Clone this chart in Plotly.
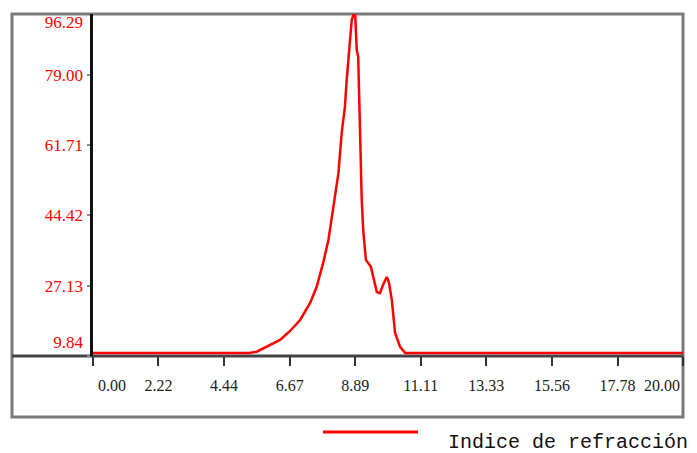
import plotly.graph_objects as go

# ---- data ----
elution_volume = [0.0, 5.30, 5.55, 5.92, 6.34, 6.68, 7.02, 7.36, 7.58, 7.81, 7.98, 8.15, 8.32,
                  8.43, 8.54, 8.60, 8.69, 8.77, 8.88, 8.94, 8.99, 9.05, 9.11, 9.16, 9.25,
                  9.42, 9.62, 9.73, 9.83, 9.96, 10.03, 10.13, 10.24, 10.41, 10.58, 20.0]
refractive_index = [10.6, 10.6, 10.9, 12.2, 13.8, 16.0, 18.7, 22.9, 26.8, 33.0, 38.4, 46.6, 54.9,
                    64.7, 71.2, 77.8, 85.2, 92.5, 95.0, 85.2, 83.4, 64.7, 48.2, 40.8, 33.5,
                    31.8, 25.6, 25.3, 27.3, 29.3, 28.0, 23.6, 15.5, 12.1, 10.6, 10.6]

x_ticks = [0.0, 2.22, 4.44, 6.67, 8.89, 11.11, 13.33, 15.56, 17.78, 20.0]
x_tick_labels = ["0.00", "2.22", "4.44", "6.67", "8.89", "11.11", "13.33", "15.56", "17.78", "20.00"]
y_ticks = [9.84, 27.13, 44.42, 61.71, 79.00, 96.29]
y_tick_labels = ["9.84", "27.13", "44.42", "61.71", "79.00", "96.29"]
series_name = "Indice de refracción"

# ---- layout geometry ----
W, H = 697, 453
ML, MR, MT, MB = 93, 14, 14, 97
PW, PH = W - ML - MR, H - MT - MB
X_RANGE = [0, 20]
Y_RANGE = [9.84, 94.01]


def px_x(p):  # pixel -> paper x
    return (p - ML) / PW


def px_y(p):  # pixel -> paper y
    return (H - MB - p) / PH


# label positions: end labels are pushed inside the frame as in the reference
x_unit = PW / (X_RANGE[1] - X_RANGE[0])
y_unit = PH / (Y_RANGE[1] - Y_RANGE[0])
x_label_pos = list(x_ticks)
x_label_pos[0] = x_ticks[0] + 19 / x_unit
x_label_pos[-1] = x_ticks[-1] - 21 / x_unit
y_label_pos = list(y_ticks)
y_label_pos[0] = y_ticks[0] + 14 / y_unit
y_label_pos[-1] = Y_RANGE[1] - 8 / y_unit

fig = go.Figure()
fig.add_trace(go.Scatter(
    x=elution_volume, y=refractive_index, mode="lines", name=series_name,
    line=dict(color="#ff0000", width=2.5), showlegend=False,
))
# invisible copy to carry the label-only axes
fig.add_trace(go.Scatter(
    x=elution_volume, y=refractive_index, mode="lines", xaxis="x2", yaxis="y2",
    line=dict(color="rgba(0,0,0,0)", width=0), opacity=0, hoverinfo="skip", showlegend=False,
))

fig.update_layout(
    width=W, height=H,
    margin=dict(l=ML, r=MR, t=MT, b=MB, pad=0, autoexpand=False),
    paper_bgcolor="white", plot_bgcolor="white",
    showlegend=False,
    xaxis=dict(range=X_RANGE, tickvals=x_ticks, showticklabels=False, ticks="outside",
               ticklen=9, tickwidth=2, tickcolor="#333333", showline=False,
               showgrid=False, zeroline=False, fixedrange=True, automargin=False),
    yaxis=dict(range=Y_RANGE, tickvals=y_ticks, showticklabels=False, ticks="outside",
               ticklen=3, tickwidth=2, tickcolor="#888888", showline=True, linecolor="#111111",
               linewidth=3, showgrid=False, zeroline=False, fixedrange=True, automargin=False),
    xaxis2=dict(range=X_RANGE, overlaying="x", anchor="y", side="bottom",
                tickvals=x_label_pos, ticktext=x_tick_labels, ticks="", showline=False,
                showgrid=False, zeroline=False, ticklabelstandoff=18, automargin=False,
                fixedrange=True,
                tickfont=dict(family="Liberation Serif", size=16, color="#222222")),
    yaxis2=dict(range=Y_RANGE, overlaying="y", anchor="x", side="left",
                tickvals=y_label_pos, ticktext=y_tick_labels, ticks="", showline=False,
                showgrid=False, zeroline=False, ticklabelstandoff=9, automargin=False,
                fixedrange=True,
                tickfont=dict(family="Liberation Serif", size=17, color="#ff0000")),
)

# outer frame
fig.add_shape(type="rect", xref="paper", yref="paper",
              x0=px_x(12), x1=px_x(683), y0=px_y(417), y1=px_y(14),
              line=dict(color="#7a7a7a", width=3), fillcolor="rgba(0,0,0,0)", layer="below")
# x axis line extending to the frame
fig.add_shape(type="line", xref="paper", yref="paper",
              x0=px_x(12), x1=px_x(683), y0=0, y1=0,
              line=dict(color="#444444", width=3), layer="below")
# legend line + text
fig.add_shape(type="line", xref="paper", yref="paper",
              x0=px_x(323), x1=px_x(418), y0=px_y(432), y1=px_y(432),
              line=dict(color="#ff0000", width=3))
fig.add_annotation(text=series_name, xref="paper", yref="paper",
                   x=px_x(446), y=px_y(442), xanchor="left", yanchor="middle",
                   showarrow=False,
                   font=dict(family="Liberation Mono", size=20, color="#111111"))

fig.write_html("out.html", config={"displayModeBar": False},
               post_script="document.body.style.margin='0';")
